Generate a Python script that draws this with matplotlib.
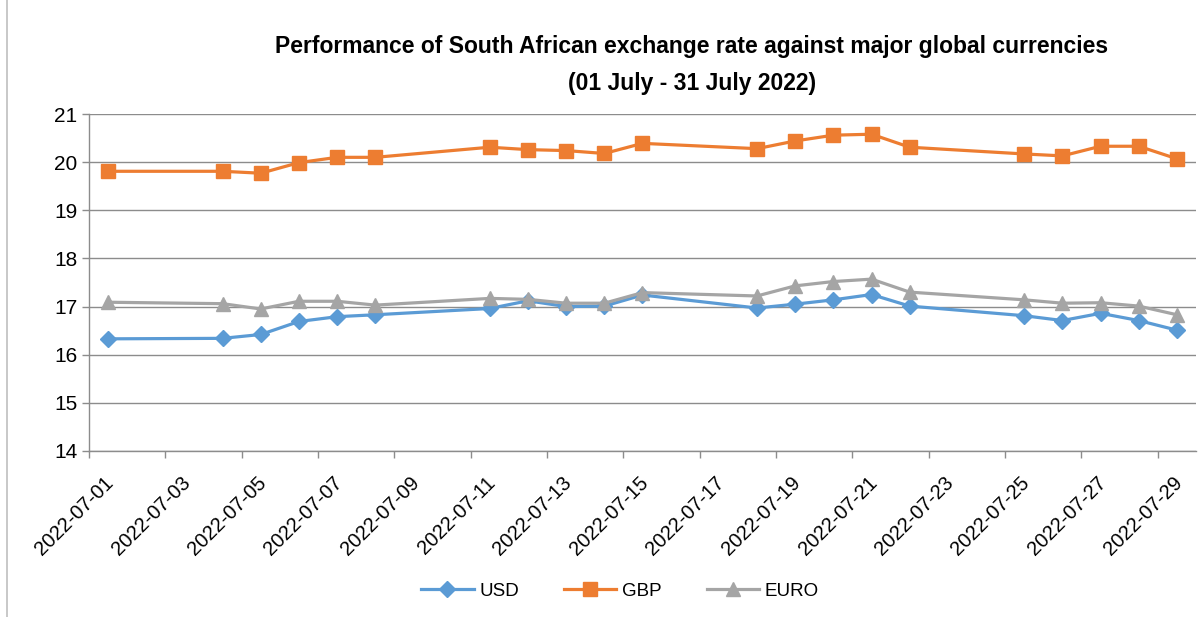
import numpy as np
import pandas as pd
import matplotlib
matplotlib.use('Agg')
import matplotlib.pyplot as plt
import matplotlib.dates as mdates
import matplotlib.transforms as mtransforms
from matplotlib.patches import Rectangle

plt.rcParams['font.family'] = ['Liberation Sans', 'DejaVu Sans']

# trading days, July 2022
dates = ['2022-07-01', '2022-07-04', '2022-07-05', '2022-07-06', '2022-07-07',
         '2022-07-08', '2022-07-11', '2022-07-12', '2022-07-13', '2022-07-14',
         '2022-07-15', '2022-07-18', '2022-07-19', '2022-07-20', '2022-07-21',
         '2022-07-22', '2022-07-25', '2022-07-26', '2022-07-27', '2022-07-28',
         '2022-07-29']
usd = [16.33, 16.34, 16.42, 16.69, 16.79, 16.83, 16.96, 17.12, 17.00, 17.01,
       17.24, 16.97, 17.05, 17.14, 17.25, 17.01, 16.81, 16.71, 16.86, 16.71, 16.51]
gbp = [19.81, 19.81, 19.77, 19.99, 20.10, 20.10, 20.31, 20.26, 20.24, 20.18,
       20.39, 20.28, 20.44, 20.56, 20.58, 20.31, 20.17, 20.13, 20.33, 20.33, 20.07]
euro = [17.09, 17.06, 16.95, 17.11, 17.11, 17.03, 17.17, 17.15, 17.07, 17.07,
        17.29, 17.22, 17.43, 17.52, 17.57, 17.30, 17.14, 17.07, 17.08, 17.01, 16.83]

title = 'Performance of South African exchange rate against major global currencies\n(01 July - 31 July 2022)'

# Excel places points in the middle of each day
x = pd.to_datetime(dates) + pd.Timedelta(hours=12)

fig = plt.figure(figsize=(11.98, 6.17), dpi=100)
ax = fig.add_axes([89 / 1198, 1 - 451 / 617, (1196 - 89) / 1198, (451 - 114) / 617])

ax.plot(x, usd, color='#5B9BD5', lw=2.3, marker='D', ms=8, label='USD', zorder=3)
ax.plot(x, gbp, color='#ED7D31', lw=2.3, marker='s', ms=9.5, label='GBP', zorder=3)
ax.plot(x, euro, color='#A5A5A5', lw=2.3, marker='^', ms=10, label='EURO', zorder=3)

ax.set_ylim(14, 21)
ax.set_yticks(np.arange(14, 22, 1))
ax.set_xlim(pd.Timestamp('2022-07-01'), pd.Timestamp('2022-07-30'))
ax.xaxis.set_major_locator(mdates.DayLocator(bymonthday=range(1, 31, 2)))
ax.xaxis.set_major_formatter(mdates.DateFormatter('%Y-%m-%d'))

ax.grid(axis='y', color='#8C8C8C', lw=1)
ax.set_axisbelow(True)
for s in ['top', 'right']:
    ax.spines[s].set_visible(False)
for s in ['left', 'bottom']:
    ax.spines[s].set_color('#8C8C8C')
    ax.spines[s].set_linewidth(1)
ax.tick_params(axis='both', colors='#8C8C8C', labelcolor='black', labelsize=14.5,
               length=5, width=1)
ax.tick_params(axis='y', labelsize=15)
shift = mtransforms.ScaledTranslation(0.15, -0.10, fig.dpi_scale_trans)
for lab in ax.get_xticklabels():
    lab.set_rotation(45)
    lab.set_ha('right')
    lab.set_rotation_mode('anchor')
    lab.set_transform(lab.get_transform() + shift)

fig.text(692 / 1198, 1 - 65 / 617, title, ha='center', va='center',
         fontsize=16.5, fontweight='bold', linespacing=1.8)

ax.legend(loc='center', bbox_to_anchor=(620 / 1198, 1 - 591 / 617),
          bbox_transform=fig.transFigure, ncol=3, frameon=False, fontsize=13.5,
          handlelength=2.8, columnspacing=2.4, handletextpad=0.3)

fig.patches.append(Rectangle((7 / 1198, -0.01), 1.2, 1.2, transform=fig.transFigure,
                             fill=False, edgecolor='#BFBFBF', lw=1.2))

fig.savefig('out.png', dpi=100)
